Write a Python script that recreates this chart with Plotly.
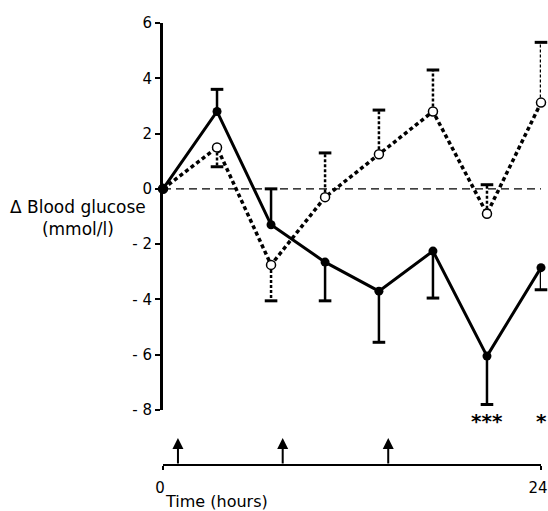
import plotly.graph_objects as go

# ---- data ----
time_h = [0, 3.43, 6.86, 10.29, 13.71, 17.14, 20.57, 24]
solid_vals = [0, 2.8, -1.3, -2.65, -3.7, -2.25, -6.05, -2.85]
solid_err_end = [None, 3.6, 0.0, -4.05, -5.55, -3.95, -7.8, -3.65]
open_vals = [0, 1.5, -2.75, -0.3, 1.25, 2.8, -0.9, 3.12]
open_err_end = [None, 0.8, -4.05, 1.3, 2.85, 4.3, 0.15, 5.3]
dose_times = [0.95, 7.6, 14.3]
signif_idx = [6, 7]
signif_text = ["***", "*"]
y_ticks = [6, 4, 2, 0, -2, -4, -6, -8]
y_ticktext = ["6", "4", "2", "0", "- 2", "- 4", "- 6", "- 8"]
x_ticks = [0, 24]
x_ticktext = ["0", "24"]

FONT = "DejaVu Sans"


def stems(xs, vals, ends):
    sx, sy, cx, cy = [], [], [], []
    for x, v, e in zip(xs, vals, ends):
        if e is None:
            continue
        sx += [x, x, None]
        sy += [v, e, None]
        cx.append(x)
        cy.append(e)
    return sx, sy, cx, cy


fig = go.Figure()

# zero reference line
fig.add_shape(type="line", xref="x", yref="y", x0=0, x1=24, y0=0, y1=0,
              line=dict(color="black", width=1.2, dash="8px,5px"), layer="below")

# open series error bars (dotted)
sx, sy, cx, cy = stems(time_h, open_vals, open_err_end)
fig.add_trace(go.Scatter(x=sx, y=sy, mode="lines", cliponaxis=False,
                         line=dict(color="black", width=2.5, dash="3px,2px"),
                         showlegend=False, hoverinfo="skip"))
fig.add_trace(go.Scatter(x=cx, y=cy, mode="markers", cliponaxis=False,
                         marker=dict(symbol="line-ew", size=9,
                                     line=dict(color="black", width=3)),
                         showlegend=False, hoverinfo="skip"))

# solid series error bars
sx, sy, cx, cy = stems(time_h, solid_vals, solid_err_end)
fig.add_trace(go.Scatter(x=sx, y=sy, mode="lines", cliponaxis=False,
                         line=dict(color="black", width=2.5),
                         showlegend=False, hoverinfo="skip"))
fig.add_trace(go.Scatter(x=cx, y=cy, mode="markers", cliponaxis=False,
                         marker=dict(symbol="line-ew", size=9,
                                     line=dict(color="black", width=3)),
                         showlegend=False, hoverinfo="skip"))

# open series
fig.add_trace(go.Scatter(x=time_h, y=open_vals, mode="lines+markers",
                         cliponaxis=False,
                         line=dict(color="black", width=3.5, dash="4px,3px"),
                         marker=dict(symbol="circle", size=9, color="white",
                                     line=dict(color="black", width=1.5)),
                         showlegend=False))

# solid series
fig.add_trace(go.Scatter(x=time_h, y=solid_vals, mode="lines+markers",
                         cliponaxis=False,
                         line=dict(color="black", width=3),
                         marker=dict(symbol="circle", size=9, color="black"),
                         showlegend=False))

annotations = []
for i, txt in zip(signif_idx, signif_text):
    annotations.append(dict(x=time_h[i], y=0.1, xref="x", yref="paper",
                            text="<b>" + txt + "</b>", showarrow=False,
                            yanchor="middle",
                            font=dict(family=FONT, size=20, color="black")))
for t in dose_times:
    annotations.append(dict(x=t, y=0.061, xref="x", yref="paper", text="",
                            showarrow=True, ax=0, ay=27, arrowhead=2,
                            arrowsize=1.1, arrowwidth=2, arrowcolor="black"))
annotations.append(dict(x=-0.225, y=0.559, xref="paper", yref="paper",
                        text="Δ Blood glucose<br>(mmol/l)", showarrow=False,
                        xanchor="center", yanchor="middle", align="center",
                        font=dict(family=FONT, size=17, color="black")))
annotations.append(dict(x=0, y=-0.083, xref="x", yref="paper",
                        text="Time (hours)", showarrow=False,
                        xanchor="left", yanchor="middle",
                        font=dict(family=FONT, size=16, color="black")))

fig.update_layout(
    width=548, height=511,
    margin=dict(l=163, r=7, t=23, b=46),
    paper_bgcolor="white", plot_bgcolor="white",
    font=dict(family=FONT, size=15, color="black"),
    xaxis=dict(range=[0, 24], anchor="free", position=0,
               showline=True, linecolor="black", linewidth=2,
               ticks="outside", ticklen=4, tickwidth=2, tickcolor="black",
               tickvals=x_ticks, ticktext=x_ticktext,
               showgrid=False, zeroline=False, automargin=False,
               ticklabeloverflow="allow", ticklabelstandoff=5,
               ticklabelshift=-3,
               tickfont=dict(family=FONT, size=15)),
    yaxis=dict(range=[-8, 6], domain=[0.1244, 1],
               showline=True, linecolor="black", linewidth=3,
               ticks="outside", ticklen=5, tickwidth=2, tickcolor="black",
               tickvals=y_ticks, ticktext=y_ticktext,
               showgrid=False, zeroline=False, ticklabelstandoff=0,
               automargin=False,
               tickfont=dict(family=FONT, size=15)),
    annotations=annotations,
    showlegend=False,
)

# remove the default page margin so the figure fills the window exactly
fig.write_html(
    "out.html",
    config={"displayModeBar": False},
    post_script="document.body.style.margin='0';"
                "document.body.style.overflow='hidden';",
)
